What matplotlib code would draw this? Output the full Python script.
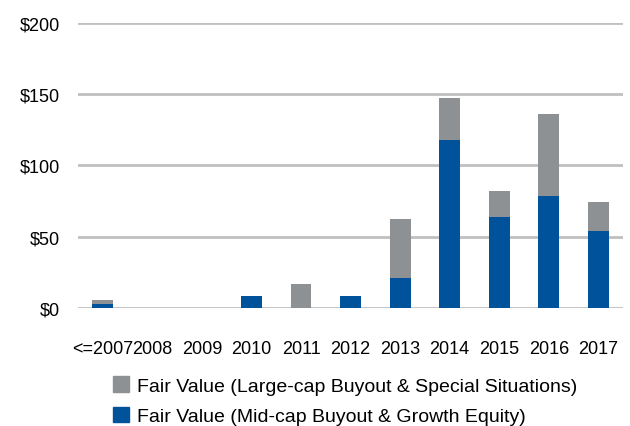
#!/usr/bin/env python3

import numpy as np
import matplotlib.pyplot as plt
from matplotlib.patches import Patch

years = ['<=2007', '2008', '2009', '2010', '2011', '2012', '2013', '2014', '2015', '2016', '2017']
mid_cap = [2.6, 0, 0, 8, 0, 8, 21, 118, 64, 78.5, 54]
large_cap = [2.8, 0, 0, 0, 16.7, 0, 41, 29, 18, 57.5, 20]

blue = '#00539b'
grey = '#8e9194'

plt.rcParams['font.family'] = ['Liberation Sans', 'DejaVu Sans']

fig = plt.figure(figsize=(6.3, 4.27), dpi=100)
ax = fig.add_axes([0.124, 0.277, 0.865, 0.667])

x = np.arange(len(years))
ax.bar(x, mid_cap, width=0.42, color=blue, zorder=3)
ax.bar(x, large_cap, width=0.42, bottom=mid_cap, color=grey, zorder=3)

ax.set_xlim(-0.5, len(years) - 0.5)
ax.set_ylim(0, 200)
ax.set_yticks([0, 50, 100, 150, 200])
ax.set_yticklabels(['$0', '$50', '$100', '$150', '$200'])
ax.set_xticks(x)
ax.set_xticklabels(years)
ax.yaxis.grid(True, color='#c0c0c0', linewidth=2, zorder=0)
ax.set_axisbelow(True)
for s in ax.spines.values():
	s.set_visible(False)
ax.tick_params(axis='both', length=0, labelsize=13)
ax.tick_params(axis='x', pad=23)
ax.tick_params(axis='y', pad=13)

handles = [Patch(color=grey, label='Fair Value (Large-cap Buyout & Special Situations)'),
	Patch(color=blue, label='Fair Value (Mid-cap Buyout & Growth Equity)')]
fig.legend(handles=handles, loc='upper left', bbox_to_anchor=(0.179, 0.117), frameon=False,
	fontsize=14, handlelength=0.85, handleheight=0.85, handletextpad=0.38,
	labelspacing=0.62, borderpad=0, borderaxespad=0)

fig.savefig('out.png', dpi=100)
